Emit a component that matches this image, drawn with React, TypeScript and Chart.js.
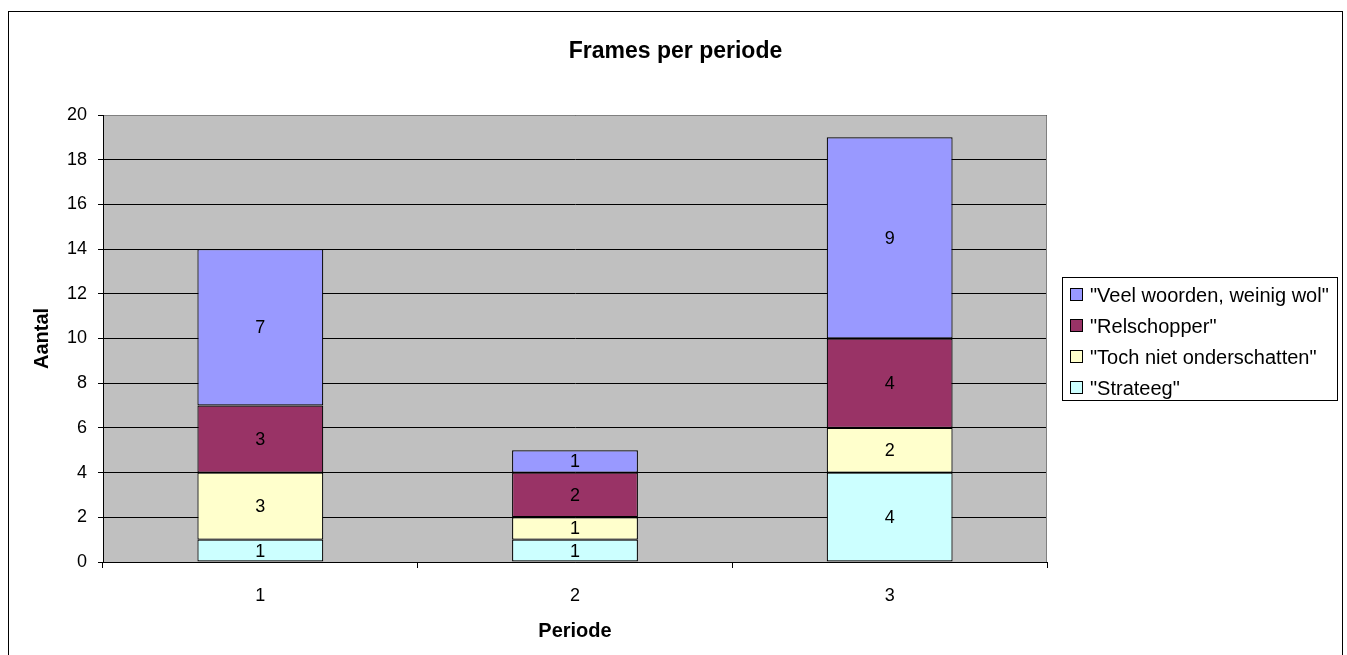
import React, { useEffect, useRef } from 'react';
import { Chart, registerables } from 'chart.js';

Chart.register(...registerables);

const FONT = '"Liberation Sans", Arial, Helvetica, sans-serif';

const categories = ['1', '2', '3'];
const strateeg = [1, 1, 4];
const tochNiet = [3, 1, 2];
const relschopper = [3, 2, 4];
const veelWoorden = [7, 1, 9];
const seriesNames = ['"Strateeg"', '"Toch niet onderschatten"', '"Relschopper"', '"Veel woorden, weinig wol"'];
const seriesColors = ['#CCFFFF', '#FFFFCC', '#993366', '#9999FF'];
const yMin = 0;
const yMax = 20;
const yStep = 2;
const chartTitle = 'Frames per periode';
const xTitle = 'Periode';
const yTitle = 'Aantal';

const CANVAS_W = 1333;
const CANVAS_H = 643;

const plotBackground = {
  id: 'plotBackground',
  beforeDraw(chart: any) {
    const { ctx, chartArea } = chart;
    ctx.save();
    ctx.fillStyle = '#C0C0C0';
    ctx.fillRect(chartArea.left, chartArea.top, chartArea.right - chartArea.left, chartArea.bottom - chartArea.top);
    ctx.restore();
  },
};

const plotFrame = {
  id: 'plotFrame',
  beforeDatasetsDraw(chart: any) {
    const { ctx, chartArea } = chart;
    ctx.save();
    ctx.strokeStyle = '#808080';
    ctx.lineWidth = 1;
    ctx.beginPath();
    ctx.moveTo(chartArea.left + 1, Math.round(chartArea.top) + 0.5);
    ctx.lineTo(Math.round(chartArea.right) - 0.5, Math.round(chartArea.top) + 0.5);
    ctx.lineTo(Math.round(chartArea.right) - 0.5, chartArea.bottom);
    ctx.stroke();
    ctx.restore();
  },
};

const valueLabels = {
  id: 'valueLabels',
  afterDatasetsDraw(chart: any) {
    const { ctx } = chart;
    ctx.save();
    ctx.font = `18px ${FONT}`;
    ctx.fillStyle = '#000';
    ctx.textAlign = 'center';
    ctx.textBaseline = 'middle';
    chart.data.datasets.forEach((ds: any, i: number) => {
      const meta = chart.getDatasetMeta(i);
      meta.data.forEach((el: any, j: number) => {
        const v = ds.data[j];
        if (!v) return;
        const p = el.getCenterPoint();
        ctx.fillText(String(v), p.x, p.y + 1);
      });
    });
    ctx.restore();
  },
};

const titleText = {
  id: 'titleText',
  afterDraw(chart: any) {
    const { ctx } = chart;
    ctx.save();
    ctx.font = `bold 23px ${FONT}`;
    ctx.fillStyle = '#000';
    ctx.textAlign = 'center';
    ctx.textBaseline = 'middle';
    ctx.fillText(chartTitle, chart.width / 2, 39.5);
    ctx.restore();
  },
};

const boxLegend = {
  id: 'boxLegend',
  afterDraw(chart: any) {
    const { ctx } = chart;
    const left = 1053.5;
    const top = 265.5;
    const w = 275;
    const h = 123;
    ctx.save();
    ctx.fillStyle = '#fff';
    ctx.fillRect(left, top, w, h);
    ctx.strokeStyle = '#000';
    ctx.lineWidth = 1;
    ctx.strokeRect(left, top, w, h);
    const items = chart.data.datasets.map((ds: any) => ({ label: ds.label, color: ds.backgroundColor })).reverse();
    const rowH = 31;
    const firstY = 283;
    ctx.font = `20px ${FONT}`;
    ctx.textBaseline = 'middle';
    ctx.textAlign = 'left';
    items.forEach((it: any, k: number) => {
      const cy = firstY + k * rowH;
      ctx.fillStyle = it.color;
      ctx.fillRect(1061.5, cy - 6.5, 12, 12);
      ctx.strokeStyle = '#000';
      ctx.strokeRect(1061.5, cy - 6.5, 12, 12);
      ctx.fillStyle = '#000';
      ctx.fillText(it.label, 1081, cy + 1);
    });
    ctx.restore();
  },
};

export default function App() {
  const ref = useRef<HTMLCanvasElement>(null);

  useEffect(() => {
    if (!ref.current) return;
    const seriesData = [strateeg, tochNiet, relschopper, veelWoorden];
    const chart = new Chart(ref.current, {
      type: 'bar',
      data: {
        labels: categories,
        datasets: seriesData.map((d, i) => ({
          label: seriesNames[i],
          data: d,
          backgroundColor: seriesColors[i],
          borderColor: '#000',
          borderWidth: 1.2,
          borderSkipped: false,
          inflateAmount: 0,
          barPercentage: 0.4,
          categoryPercentage: 1,
        })),
      },
      options: {
        responsive: false,
        animation: false,
        devicePixelRatio: 1,
        layout: { padding: { left: 0, right: 295, top: 103, bottom: 0 } },
        plugins: {
          legend: { display: false },
          tooltip: { enabled: false },
          title: { display: false },
        },
        scales: {
          x: {
            stacked: true,
            grid: { display: true, drawOnChartArea: false, offset: true, color: '#000', tickLength: 6 },
            border: { color: '#000', width: 1 },
            ticks: { color: '#000', font: { family: FONT, size: 18 }, padding: 17 },
            title: {
              display: true,
              text: xTitle,
              color: '#000',
              font: { family: FONT, size: 20, weight: 'bold' },
              padding: { top: 0, bottom: 12 },
            },
            afterFit: (s: any) => { s.height = CANVAS_H - 550; },
          },
          y: {
            stacked: true,
            min: yMin,
            max: yMax,
            ticks: { stepSize: yStep, color: '#000', font: { family: FONT, size: 18 }, padding: 11 },
            grid: { color: '#000', tickLength: 5 },
            border: { color: '#000', width: 1 },
            title: {
              display: true,
              text: yTitle,
              color: '#000',
              font: { family: FONT, size: 20, weight: 'bold' },
              padding: { top: 21, bottom: 0 },
            },
            afterFit: (s: any) => { s.width = 94; },
          },
        },
      },
      plugins: [plotBackground, plotFrame, valueLabels, titleText, boxLegend],
    } as any);
    return () => chart.destroy();
  }, []);

  return (
    <div
      style={{
        position: 'fixed',
        left: 8,
        top: 11,
        width: CANVAS_W,
        height: CANVAS_H,
        borderTop: '1px solid #000',
        borderLeft: '1px solid #000',
        borderRight: '1px solid #000',
        background: '#fff',
      }}
    >
      <canvas ref={ref} width={CANVAS_W} height={CANVAS_H} style={{ display: 'block' }} />
    </div>
  );
}
